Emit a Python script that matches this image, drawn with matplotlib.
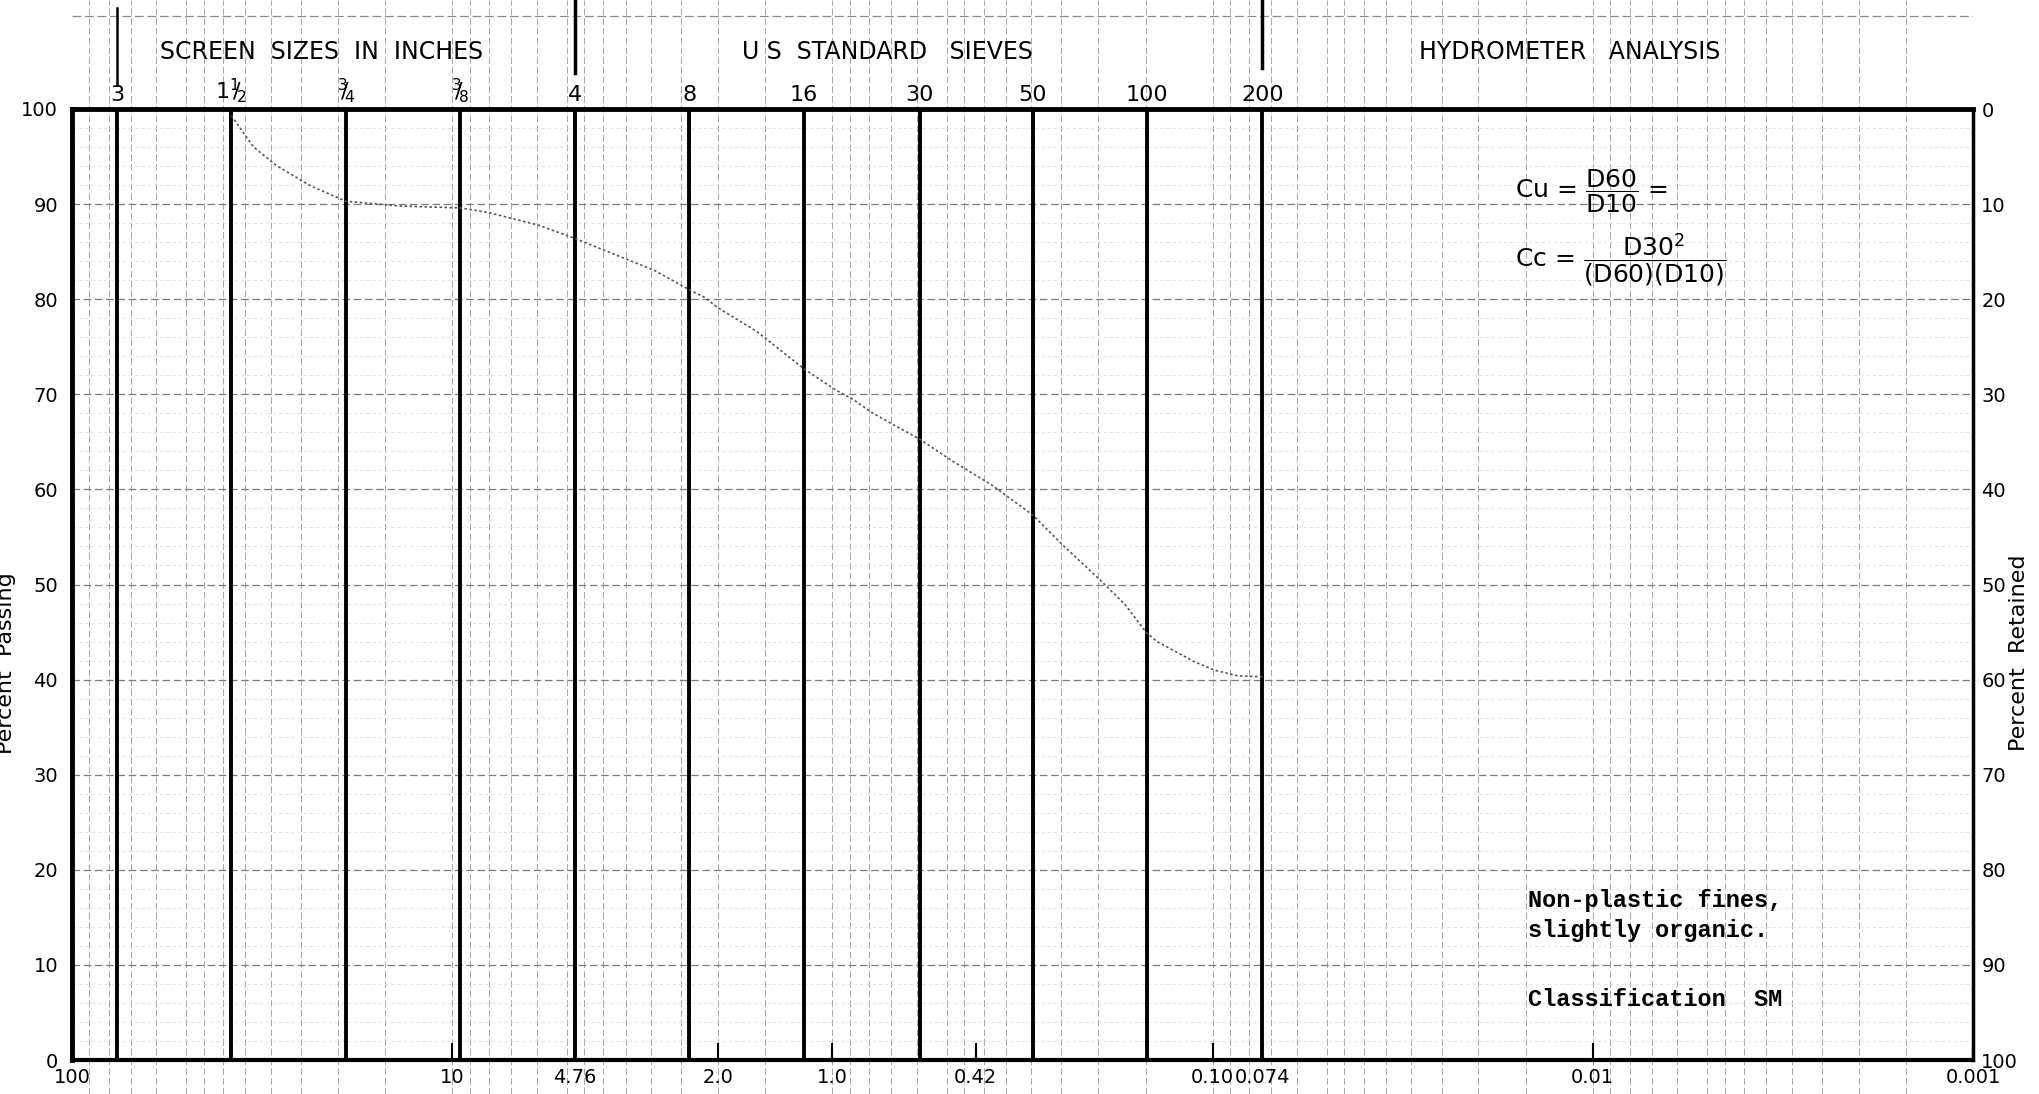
import numpy as np
import matplotlib.pyplot as plt
from matplotlib.ticker import NullLocator

# sieve openings (mm) and the names printed above the chart
sieve_mm = [76.2, 38.1, 19.05, 9.525, 4.76, 2.38, 1.19, 0.59, 0.297, 0.149, 0.074]
sieve_labels = ['3', r'1$^{1}\!\!/\!_{2}$', r'$^{3}\!\!/\!_{4}$', r'$^{3}\!\!/\!_{8}$',
                '4', '8', '16', '30', '50', '100', '200']

# grain size curve
size_mm = [38.1, 33.3, 29.1, 23.8, 19.05, 13.8, 9.525, 8.0, 5.95, 4.76,
           2.93, 2.38, 2.17, 2.0, 1.58, 1.19, 0.985, 0.885, 0.789, 0.684,
           0.59, 0.493, 0.379, 0.297, 0.250, 0.198, 0.170, 0.149, 0.140,
           0.112, 0.099, 0.086, 0.074]
passing = [99.3, 96.0, 94.1, 92.0, 90.3, 89.8, 89.6, 89.1, 87.8, 86.4,
           83.0, 81.0, 80.2, 79.1, 76.6, 72.7, 70.5, 69.5, 68.1, 66.7,
           65.3, 63.2, 60.4, 57.3, 54.3, 50.5, 47.9, 44.9, 44.0,
           41.9, 41.0, 40.4, 40.3]

bottom_ticks = [100, 10, 4.76, 2.0, 1.0, 0.42, 0.10, 0.074, 0.01, 0.001]
bottom_labels = ['100', '10', '4.76', '2.0', '1.0', '0.42', '0.10', '0.074', '0.01', '0.001']
pct_ticks = list(range(0, 101, 10))

# log graph paper lines
mantissa = [1, 1.5, 2, 2.5, 3, 3.5, 4, 4.5, 5, 6, 7, 8, 9]
grid_mm = [m * 10.0**k for k in range(-3, 2) for m in mantissa]

W, H = 2039, 1094
fig = plt.figure(figsize=(W / 100, H / 100), dpi=100)
L, R = 72 / W, 1973 / W
B, T = 1 - 1060 / H, 1 - 109 / H

# background: paper grid running through header and footer
bg = fig.add_axes([L, 0, R - L, 1])
bg.set_xscale('log')
bg.set_xlim(100, 0.001)
bg.set_ylim(0, 1)
bg.axis('off')
for g in grid_mm:
    bg.axvline(g, color='#a6a6a6', lw=0.7, ls=(0, (7, 3)), zorder=0)
bg.axhline(1 - 16 / H, color='#8a8a8a', lw=0.9, ls=(0, (7, 3)), zorder=0)
bg.plot([4.76, 4.76], [1 - 73 / H, 1], color='k', lw=2.5)
bg.plot([0.074, 0.074], [1 - 68 / H, 1], color='k', lw=2.5)
bg.plot([76.2, 76.2], [1 - 85 / H, 1 - 8 / H], color='k', lw=1.8)
head_y = 1 - 52 / H
bg.text(0.1315, head_y, 'SCREEN  SIZES  IN  INCHES', transform=bg.transAxes,
        ha='center', va='center', fontsize=17)
bg.text(0.4287, head_y, 'U S  STANDARD   SIEVES', transform=bg.transAxes,
        ha='center', va='center', fontsize=17)
bg.text(0.788, head_y, 'HYDROMETER   ANALYSIS', transform=bg.transAxes,
        ha='center', va='center', fontsize=17)

ax = fig.add_axes([L, B, R - L, T - B])
ax.set_facecolor('none')
ax.set_xscale('log')
ax.set_xlim(100, 0.001)
ax.set_ylim(0, 100)

for v in range(2, 100, 2):
    if v % 10 == 0:
        ax.axhline(v, color='#7a7a7a', lw=0.9, ls=(0, (6, 3)), zorder=1)
    else:
        ax.axhline(v, color='#dadada', lw=0.5, ls=(0, (5, 4)), zorder=1)

for s in sieve_mm:
    ax.axvline(s, color='k', lw=2.8, zorder=2)

ax.plot(size_mm, passing, color='#555555', lw=1.2, ls=(0, (1.5, 1.5)), zorder=3)

for side, lw in [('left', 3.5), ('top', 3.5), ('bottom', 3.0), ('right', 2.5)]:
    ax.spines[side].set_linewidth(lw)

ax.set_xticks(bottom_ticks, labels=bottom_labels)
ax.xaxis.set_minor_locator(NullLocator())
ax.tick_params(axis='x', direction='in', length=12, width=1.5, labelsize=14, pad=6)
ax.set_yticks(pct_ticks)
ax.tick_params(axis='y', length=0, labelsize=14, pad=10)

tw = ax.twinx()
tw.set_ylim(100, 0)
tw.set_yticks(pct_ticks)
tw.tick_params(axis='y', length=0, labelsize=14, pad=6)
for sp in tw.spines.values():
    sp.set_visible(False)

top = ax.secondary_xaxis('top')
top.set_xticks(sieve_mm, labels=sieve_labels)
top.xaxis.set_minor_locator(NullLocator())
top.tick_params(length=0, labelsize=16, pad=3)
top.spines['top'].set_visible(False)

fig.text(0.003, 0.394, 'Percent  Passing', rotation=90, ha='center', va='center', fontsize=16)
fig.text(0.990, 0.403, 'Percent  Retained', rotation=90, ha='center', va='center', fontsize=16)

ax.text(0.759, 0.914, r'Cu = $\dfrac{\mathrm{D60}}{\mathrm{D10}}$ =', transform=ax.transAxes,
        ha='left', va='center', fontsize=18)
ax.text(0.759, 0.841, r'Cc = $\dfrac{\mathrm{D30}^{2}}{\mathrm{(D60)(D10)}}$', transform=ax.transAxes,
        ha='left', va='center', fontsize=18)

mono = dict(family='Liberation Mono', weight='bold', fontsize=17)
ax.text(0.766, 0.152, 'Non-plastic fines,\nslightly organic.', transform=ax.transAxes,
        ha='left', va='center', linespacing=1.35, **mono)
ax.text(0.766, 0.064, 'Classification  SM', transform=ax.transAxes,
        ha='left', va='center', **mono)

fig.savefig('out.png', dpi=100, facecolor='white')
